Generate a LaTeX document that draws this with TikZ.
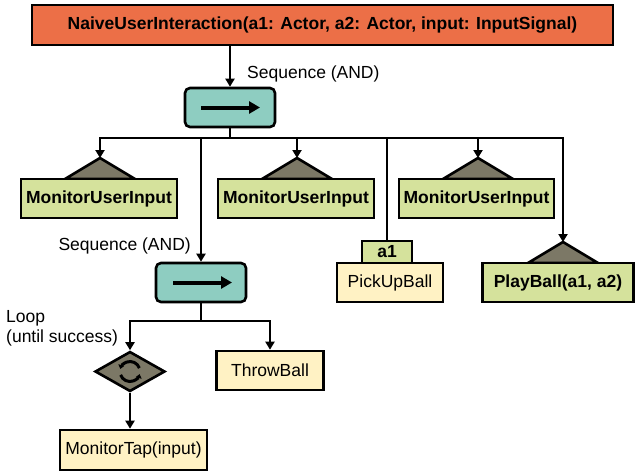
\documentclass[tikz,border=0pt]{standalone}
\usepackage{fontspec}
\setmainfont{Liberation Sans}
\usetikzlibrary{arrows.meta,shapes.geometric,calc}
\definecolor{titleor}{HTML}{EC6F47}
\definecolor{seqteal}{HTML}{8ECDC1}
\definecolor{actgreen}{HTML}{D5E29C}
\definecolor{decgray}{HTML}{7C7866}
\definecolor{leafyel}{HTML}{FFF2C4}
\begin{document}
\begin{tikzpicture}[x=1pt,y=-1pt,
  every node/.style={font=\fontsize{17.5}{20}\selectfont, inner sep=0pt},
  boxbase/.style={draw=black, line width=2.6pt, rectangle},
  titlebox/.style={boxbase, fill=titleor, font=\fontsize{17.5}{20}\selectfont\bfseries},
  seqbox/.style={boxbase, fill=seqteal, rounded corners=5pt, minimum width=90pt, minimum height=39pt},
  actbox/.style={boxbase, fill=actgreen, minimum height=39pt, font=\fontsize{17.5}{20}\selectfont\bfseries},
  leafbox/.style={boxbase, fill=leafyel, minimum height=39pt},
  decotri/.style={draw=black, line width=2.6pt, fill=decgray, line join=miter},
  conn/.style={draw=black, line width=2.6pt},
  arr/.style={conn, -{Triangle[length=8pt,width=9pt]}},
  innerarr/.style={draw=black, line width=4pt, -{Triangle[length=11pt,width=12pt]}},
  looparr/.style={draw=black, line width=3pt, -{Triangle[length=4pt,width=6pt]}},
  lbl/.style={font=\fontsize{17.5}{20}\selectfont}
]
\useasboundingbox (0,0) rectangle (636,472);

% title
\node[titlebox, minimum width=581pt, minimum height=40pt] (title) at (322.5,25) {NaiveUserInteraction(a1: Actor, a2: Actor, input: InputSignal)};

% first sequence
\node[seqbox] (seq1) at (230,107.5) {};
\draw[innerarr] ($(seq1.center)+(-29,0)$) -- ($(seq1.center)+(30,0)$);
\node[lbl, anchor=west] (seq1lbl) at (247,74) {Sequence (AND)};
\draw[arr] (seq1.north |- title.south) -- (seq1.north);

% bar 1
\coordinate (b1L) at (100,138);
\coordinate (b1R) at (563,138);
\draw[conn] (seq1.south) -- (seq1.south |- b1L);
\draw[conn, line cap=rect] (b1L) -- (b1R);

% decorator triangles
\coordinate (t1) at (100,158);
\coordinate (t2) at (297,158);
\coordinate (t3) at (478,158);
\coordinate (t4) at (563,242);
\foreach \t in {t1,t2,t3,t4}{
  \filldraw[decotri] (\t) -- ++(-35,21) -- ++(70,0) -- cycle;
}

% monitor user input boxes
\node[actbox, minimum width=156pt] (mui1) at (99,198.5) {MonitorUserInput};
\node[actbox, minimum width=156pt] (mui2) at (296,198.5) {MonitorUserInput};
\node[actbox, minimum width=155pt] (mui3) at (476.5,198.5) {MonitorUserInput};

\draw[arr] (b1L) -- (t1);
\draw[arr] (t2 |- b1L) -- (t2);
\draw[arr] (t3 |- b1L) -- (t3);
\draw[arr] (b1R) -- (t4);

% second sequence
\node[seqbox] (seq2) at (201,282.5) {};
\draw[innerarr] ($(seq2.center)+(-28,0)$) -- ($(seq2.center)+(31,0)$);
\node[lbl, anchor=east] (seq2lbl) at (191,246) {Sequence (AND)};
\draw[arr] (seq2.north |- b1L) -- (seq2.north);

% pick up ball with a1
\node[leafbox, minimum width=106pt] (pick) at (390,282.5) {PickUpBall};
\node[actbox, minimum width=50pt, minimum height=22pt] (a1) at (387,252) {a1};
\draw[conn] (a1.north |- b1L) -- (a1.north);

% play ball
\node[actbox, minimum width=151pt] (play) at (558,282.5) {PlayBall(a1, a2)};

% bar 2
\coordinate (b2L) at (130,321);
\coordinate (b2R) at (270,321);
\draw[conn] (seq2.south) -- (seq2.south |- b2L);
\draw[conn, line cap=rect] (b2L) -- (b2R);

% loop
\node[diamond, draw=black, line width=2.6pt, fill=decgray, minimum width=70pt, minimum height=40pt, aspect=1.75] (loop) at (130,371.5) {};
\draw[looparr] ($(loop.center)+(160:10)$) arc[start angle=160, end angle=15, radius=10];
\draw[looparr] ($(loop.center)+(340:10)$) arc[start angle=340, end angle=195, radius=10];
\node[lbl, anchor=west, align=left] (looplbl) at (6,328) {Loop\\(until success)};
\draw[arr] (b2L) -- (loop.north);

% throw ball
\node[leafbox, minimum width=107pt] (throw) at (270,370.5) {ThrowBall};
\draw[arr] (b2R) -- (throw.north);

% monitor tap
\node[leafbox, minimum width=147pt, minimum height=40pt] (tap) at (133.5,450) {MonitorTap(input)};
\draw[arr] (loop.south) -- (loop.south |- tap.north);
\end{tikzpicture}
\end{document}
